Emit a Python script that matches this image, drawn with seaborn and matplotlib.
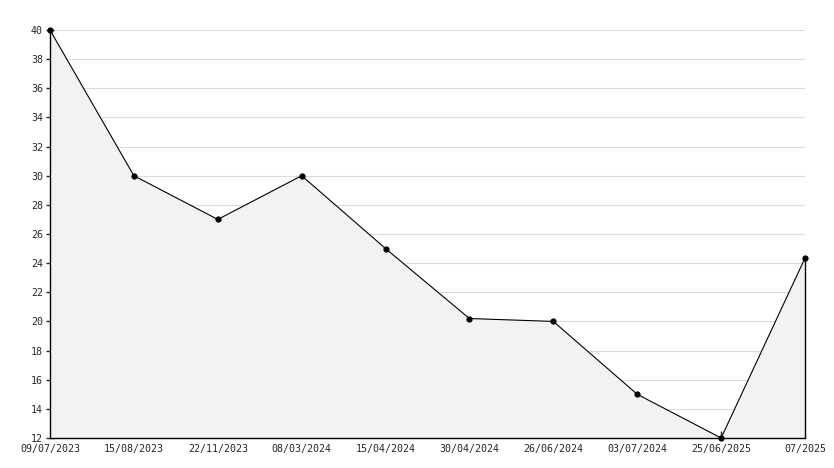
import matplotlib
matplotlib.use("Agg")
import matplotlib.pyplot as plt
import matplotlib.transforms as mtransforms
import seaborn as sns
from matplotlib.ticker import MultipleLocator

# data
dates = ["09/07/2023", "15/08/2023", "22/11/2023", "08/03/2024", "15/04/2024",
         "30/04/2024", "26/06/2024", "03/07/2024", "25/06/2025", "07/2025"]
values = [40, 30, 27, 30, 25, 20.2, 20, 15, 12, 24.35]
positions = list(range(len(dates)))

sns.set_style("white")
plt.rcParams["font.family"] = ["DejaVu Sans Mono"]

fig = plt.figure(figsize=(8.34, 4.68), dpi=100)
ax = fig.add_axes([50 / 834, 30 / 468, 755 / 834, 408 / 468])

# grid first, then the filled area over it
ax.set_axisbelow(True)
ax.yaxis.grid(True, color="#dcdcdc", linewidth=0.8, zorder=0)
ax.fill_between(positions, values, 12, facecolor="#f2f2f2", edgecolor="none", zorder=1)
ax.plot([positions[-1], positions[-1]], [12, values[-1]], color="black",
        linewidth=1, zorder=2, clip_on=False)

sns.lineplot(x=positions, y=values, ax=ax, color="black", linewidth=0.8,
             marker="o", markersize=4.5, markeredgewidth=0, zorder=3, clip_on=False)

ax.set_xlim(0, len(dates) - 1)
ax.set_ylim(12, 40)
ax.yaxis.set_major_locator(MultipleLocator(2))
ax.yaxis.set_minor_locator(MultipleLocator(1))
ax.set_xticks(positions)
ax.set_xticklabels(dates)

for side in ["top", "right"]:
    ax.spines[side].set_visible(False)
for side in ["left", "bottom"]:
    ax.spines[side].set_color("black")
    ax.spines[side].set_linewidth(1)

ax.tick_params(axis="y", which="major", direction="inout", length=6, width=1,
               labelsize=7.2, pad=2, left=True)
ax.tick_params(axis="y", which="minor", direction="in", length=3, width=1, left=True)
ax.tick_params(axis="x", which="major", direction="in", length=5, width=1,
               labelsize=7.2, pad=4.5, bottom=True)
# no tick marks at the two ends of the x axis
xticks = ax.xaxis.get_major_ticks()
for t in (xticks[0], xticks[-1]):
    t.tick1line.set_visible(False)

# nudge the lowest y label up a little so it clears the first date
low = ax.yaxis.get_major_ticks()[0].label1
low.set_transform(low.get_transform() + mtransforms.ScaledTranslation(0, 2 / 100, fig.dpi_scale_trans))

fig.savefig("out.png", dpi=100)
